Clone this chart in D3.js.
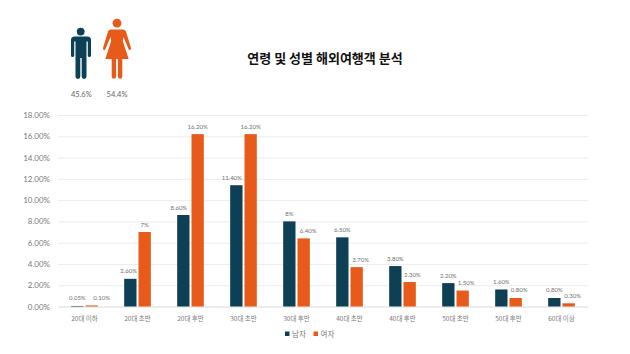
<!DOCTYPE html>
<html>
<head>
<meta charset="utf-8">
<script src="https://cdn.jsdelivr.net/npm/d3@7"></script>
<style>
  html, body { margin: 0; padding: 0; background: #fff; }
  svg { display: block; }
  text { font-family: "Noto Sans CJK KR", "Lato", sans-serif; }
</style>
</head>
<body>
<div id="chart"></div>
<script>
const categories = ["20대 이하", "20대 초반", "20대 후반", "30대 초반", "30대 후반", "40대 초반", "40대 후반", "50대 초반", "50대 후반", "60대 이상"];
const male = [0.05, 2.6, 8.6, 11.4, 8, 6.5, 3.8, 2.2, 1.6, 0.8];
const female = [0.1, 7, 16.2, 16.2, 6.4, 3.7, 2.3, 1.5, 0.8, 0.3];
const maleLabels = ["0.05%", "2.60%", "8.60%", "11.40%", "8%", "6.50%", "3.80%", "2.20%", "1.60%", "0.80%"];
const femaleLabels = ["0.10%", "7%", "16.20%", "16.20%", "6.40%", "3.70%", "2.30%", "1.50%", "0.80%", "0.30%"];
const yTicks = [0, 2, 4, 6, 8, 10, 12, 14, 16, 18];
const seriesNames = ["남자", "여자"];
const shares = ["45.6%", "54.4%"];

const width = 630,
    height = 354,
    margin = ({ top: 115, right: 42, bottom: 47.5, left: 58 });

const navy = "#0d4054",
    orange = "#e85a19";

const svg = d3.select("#chart")
    .append("svg")
    .attr("width", width)
    .attr("height", height)
    .attr("viewBox", [0, 0, width, height]);

let x_scale = d3.scaleBand()
    .domain(categories)
    .range([margin.left, width - margin.right]);

let x_inner = d3.scaleBand()
    .domain(seriesNames)
    .range([0, x_scale.bandwidth()])
    .paddingInner(0.14)
    .paddingOuter(0.92);

let y_scale = d3.scaleLinear()
    .domain([0, 18])
    .range([height - margin.bottom, margin.top]);

// y axis + gridlines
const yAxis = svg.append("g")
    .attr("transform", "translate(" + margin.left + ",0)")
    .call(d3.axisLeft(y_scale)
        .tickValues(yTicks)
        .tickSize(-(width - margin.left - margin.right))
        .tickPadding(8)
        .tickFormat(d => d.toFixed(2) + "%"));
yAxis.select(".domain").remove();
yAxis.selectAll("line").attr("stroke", "#ececec");
yAxis.selectAll("text")
    .attr("fill", "#7a7a7a")
    .style("font-family", "Lato, sans-serif")
    .style("font-size", "8px");

// x axis
const xAxis = svg.append("g")
    .attr("transform", "translate(0," + (height - margin.bottom) + ")")
    .call(d3.axisBottom(x_scale).tickSize(0).tickPadding(9.5));
xAxis.select(".domain").attr("stroke", "#e4e4e4");
xAxis.selectAll("text")
    .attr("fill", "#7a7a7a")
    .style("font-size", "6.5px");

// bars, labels were dragged by hand in the original so they need a nudge
const series = [
    { name: seriesNames[0], values: male, labels: maleLabels, color: navy, nudge: [0, -1.7, -4.5, -4.5, 0, 0, 0, 0, 0, 0] },
    { name: seriesNames[1], values: female, labels: femaleLabels, color: orange, nudge: [10, 0, 0, 0, 4.5, 4, 2.7, 3.5, 3.5, 4] }
];

for (let s of series) {
    svg.append("g").selectAll("rect")
        .data(s.values)
        .enter()
        .append("rect")
        .attr("x", (d, i) => x_scale(categories[i]) + x_inner(s.name))
        .attr("y", d => y_scale(d))
        .attr("width", x_inner.bandwidth())
        .attr("height", d => y_scale(0) - y_scale(d))
        .attr("fill", s.color);

    svg.append("g").selectAll("text")
        .data(s.values)
        .enter()
        .append("text")
        .attr("x", (d, i) => x_scale(categories[i]) + x_inner(s.name) + x_inner.bandwidth() / 2 + s.nudge[i])
        .attr("y", d => y_scale(d) - 5.5)
        .attr("text-anchor", "middle")
        .attr("fill", "#6f6f6f")
        .style("font-family", "Lato, sans-serif")
        .style("font-size", "6px")
        .text((d, i) => s.labels[i]);
}

// title
svg.append("text")
    .attr("x", 325)
    .attr("y", 63)
    .attr("text-anchor", "middle")
    .attr("fill", "#111")
    .style("font-size", "13px")
    .style("font-weight", "700")
    .text("연령 및 성별 해외여행객 분석");

// legend
const legend = svg.append("g").selectAll("g")
    .data(seriesNames)
    .enter()
    .append("g")
    .attr("transform", (d, i) => "translate(" + (285 + i * 28.5) + ",336)");
legend.append("rect")
    .attr("y", -4.5)
    .attr("width", 4.5)
    .attr("height", 4.5)
    .attr("fill", (d, i) => series[i].color);
legend.append("text")
    .attr("x", 7)
    .attr("y", 1)
    .attr("fill", "#7a7a7a")
    .style("font-size", "7.5px")
    .text(d => d);

// people icons
const man = svg.append("g").attr("fill", navy);
man.append("circle").attr("cx", 80.7).attr("cy", 31.6).attr("r", 3.9);
man.append("path").attr("d", "M74.6 36.5H87.4q3.6 0 3.6 3.6V55.5a1.6 1.6 0 0 1-3.2 0V41.5H86.5V76.5a2.4 2.4 0 0 1-4.8 0V58H80.3V76.5a2.4 2.4 0 0 1-4.8 0V41.5H74.2V55.5a1.6 1.6 0 0 1-3.2 0V40.1q0-3.6 3.6-3.6z");

const woman = svg.append("g").attr("fill", orange);
woman.append("circle").attr("cx", 117).attr("cy", 23.2).attr("r", 4.4);
woman.append("path").attr("d", "M111 29.5H123q2.2 0 3 2L131 48a1.3 1.3 0 0 1-2.5 1L123.5 37L122.8 41L128.7 59H122.3V76.5a2.2 2.2 0 0 1-4.4 0V59H116.1V76.5a2.2 2.2 0 0 1-4.4 0V59H105.3L111.2 41L110.5 37L105.5 49a1.3 1.3 0 0 1-2.5-1L108 31.5q.8-2 3-2z");

svg.append("g").selectAll("text")
    .data(shares)
    .enter()
    .append("text")
    .attr("x", (d, i) => 81.3 + i * 35.7)
    .attr("y", 97)
    .attr("text-anchor", "middle")
    .attr("fill", "#666")
    .style("font-family", "Lato, sans-serif")
    .style("font-size", "7.5px")
    .text(d => d);
</script>
</body>
</html>
